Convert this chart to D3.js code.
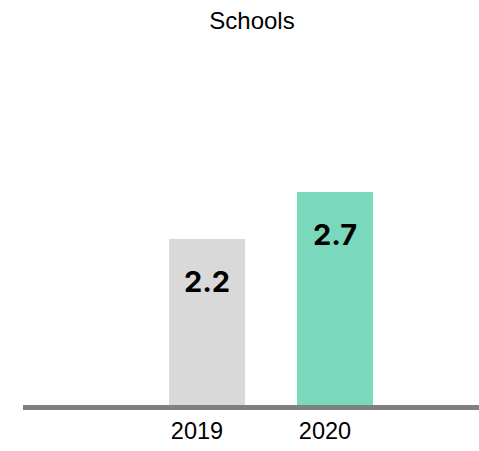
<!DOCTYPE html>
<html><head><meta charset="utf-8">
<script src="https://cdn.jsdelivr.net/npm/d3@7"></script>
<style>body{margin:0;background:#fff}svg{display:block}</style>
</head><body>
<script>
const title = "Schools";
const years = ["2019", "2020"];
const values = [2.2, 2.7];
const colors = ["#d9d9d9", "#7ad9bd"];

const W = 479, H = 451;
const svg = d3.select("body").append("svg").attr("width", W).attr("height", H);

const x = d3.scaleBand().domain(years).range([143, 399])
  .paddingInner(0.40625).paddingOuter(0.203125);
const y = d3.scaleLinear().domain([0.434, 3.0]).range([405, 163.8]);

svg.append("text").attr("x", 252).attr("y", 29).attr("text-anchor", "middle")
  .attr("font-family", "Liberation Sans, Arial, sans-serif").attr("font-size", 24)
  .attr("fill", "#000").text(title);

svg.selectAll("rect.bar").data(years).join("rect").attr("class", "bar")
  .attr("x", d => x(d)).attr("width", x.bandwidth())
  .attr("y", (d, i) => y(values[i])).attr("height", (d, i) => y(y.domain()[0]) - y(values[i]))
  .attr("fill", (d, i) => colors[i]);

svg.selectAll("text.val").data(years).join("text").attr("class", "val")
  .attr("x", d => x(d) + x.bandwidth() / 2)
  .attr("y", (d, i) => y(values[i]) + 53)
  .attr("text-anchor", "middle")
  .attr("font-family", "Inter, sans-serif").attr("font-weight", 700).attr("font-size", 29)
  .attr("fill", "#000").text((d, i) => values[i].toFixed(1));

svg.append("line").attr("x1", 23).attr("x2", 479).attr("y1", 407.5).attr("y2", 407.5)
  .attr("stroke", "#808080").attr("stroke-width", 5);

const axis = d3.axisBottom(x).tickSize(0).tickPadding(0);
const g = svg.append("g").attr("transform", "translate(0,439)").call(axis);
g.select(".domain").remove();
g.selectAll("text").attr("dy", 0).attr("dx", -10)
  .attr("font-family", "Liberation Sans, Arial, sans-serif").attr("font-size", 23.5).attr("fill", "#000");
</script>
</body></html>
